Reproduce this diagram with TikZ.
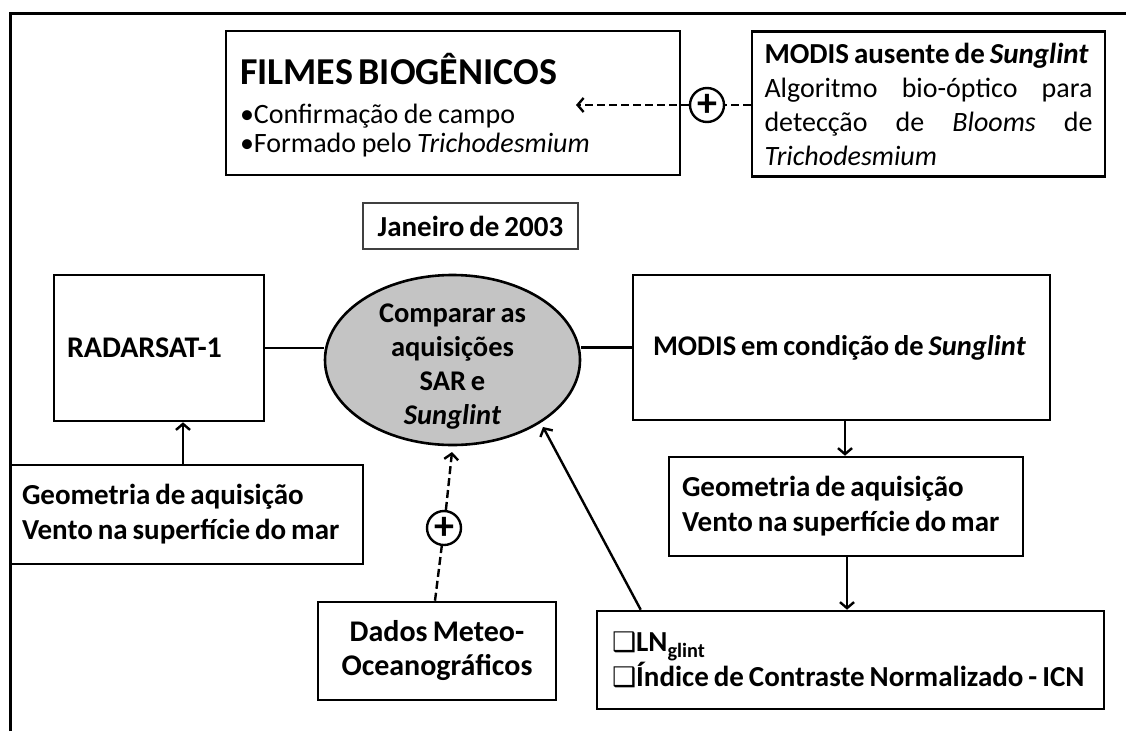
\documentclass[tikz,border=0pt]{standalone}
\usepackage{fontspec}
\setmainfont{Carlito}
\newfontfamily\djv{DejaVu Sans}
\usetikzlibrary{shapes.geometric,arrows.meta,calc}
\newcommand\tspc{\spaceskip=0.17em plus 0.05em minus 0.02em\relax}
\newcommand\szA{\fontsize{29}{35}\selectfont\tspc}
\newcommand\szE{\fontsize{28.5}{34}\selectfont\tspc}
\newcommand\szC{\fontsize{30}{34}\selectfont\tspc}
\newcommand\szB{\fontsize{28}{29}\selectfont\spaceskip=0.2em plus 0.05em minus 0.02em\relax}
\newcommand\szH{\fontsize{38}{44}\selectfont}
\newcommand\qbox{{\djv\fontsize{27}{34}\selectfont ❑}}
\begin{document}
\begin{tikzpicture}[x=1pt,y=-1pt,
  box/.style={draw,line width=2.6pt,inner ysep=0pt,align=flush left,font=\szA},
  bbox/.style={box,font=\bfseries\szA},
  conn/.style={line width=2.4pt},
  arr/.style={conn,-{Straight Barb[length=6pt,width=14pt]}},
  dsh/.style={dash pattern=on 8pt off 4pt},
  plus/.style={draw,circle,line width=2.4pt,minimum size=34pt,inner sep=0pt,fill=white,font=\fontsize{40}{40}\selectfont\bfseries}]
\useasboundingbox (0,0) rectangle (1126,731);
% frame
\draw[line width=3pt] (10,731) -- (10,13) -- (1126,13);

% top boxes
\node[box,font=\szB,minimum width=454pt,minimum height=144pt,text width=426pt,inner xsep=14pt] (fil) at (453,103)
  {\rule{0pt}{36pt}{\szH\bfseries FILMES BIOGÊNICOS}\\[10pt]•Confirmação de campo\\•Formado pelo \textit{Trichodesmium}};
\node[box,font=\fontsize{28}{34}\selectfont,minimum width=353pt,minimum height=145pt,text width=328pt,inner xsep=12.5pt] (mod1) at (928.5,104)
  {\mbox{\bfseries\fontsize{29}{34}\selectfont MODIS\kern0.17em ausente\kern0.17em de\kern0.17em \textit{Sunglint}}\\Algoritmo\hfill bio-óptico\hfill para\\detecção\hfill de\hfill \textit{Blooms}\hfill de\\\textit{Trichodesmium}};
\node[plus] (pl1) at (707,105) {+};
\coordinate (t1) at (576,105);

% date
\node[draw=black!75,line width=1.2pt,font=\bfseries\szA,minimum width=215pt,minimum height=46pt,inner sep=0pt] (jan) at (470.5,226) {Janeiro de 2003};

% middle row
\node[bbox,font=\bfseries\szC,minimum width=210pt,minimum height=146pt,text width=184pt,inner xsep=13pt] (rad) at (159,348) {RADARSAT-1};
\node[draw,ellipse,line width=2.6pt,fill={rgb,255:red,196;green,196;blue,196},minimum width=255pt,minimum height=170pt,inner sep=0pt,
  label={[font=\bfseries\szE,align=flush center,yshift=-7pt]center:Comparar as\\aquisições\\SAR e\\\textit{Sunglint}}] (ell) at (452.5,360) {};
\node[bbox,font=\bfseries\szE,minimum width=417pt,minimum height=145pt,text width=377pt,inner xsep=20pt] (mod2) at (841.5,347.5) {\mbox{MODIS em condição de \textit{Sunglint}}};

% lower boxes
\node[bbox,minimum width=353pt,minimum height=99pt,text width=329pt,inner xsep=12pt] (geoL) at (186.5,514.5)
  {Geometria de aquisição\\Vento na superfície do mar};
\node[bbox,minimum width=354pt,minimum height=99pt,text width=328pt,inner xsep=13pt] (geoR) at (846,506.5)
  {Geometria de aquisição\\Vento na superfície do mar};
\node[bbox,font=\bfseries\fontsize{29}{33}\selectfont\tspc,minimum width=507pt,minimum height=98pt,text width=477pt,inner xsep=15pt] (ln) at (850.5,660)
  {\mbox{\qbox LN\textsubscript{glint}}\\\mbox{\qbox Índice de Contraste Normalizado - ICN}};
\node[bbox,font=\bfseries\szC,align=flush center,minimum width=238pt,minimum height=98pt,inner xsep=0pt] (dad) at (437,651)
  {Dados Meteo-\\Oceanográficos};
\node[plus] (pl2) at (444,528) {+};
\coordinate (t2) at (452,452);
\coordinate (t3) at (543,427);

% connectors
\draw[conn] (rad.east) -- (rad.east -| ell.west);
\draw[conn] (mod2.west) -- (mod2.west -| ell.east);
\draw[arr] ([xshift=-3.5pt]geoL.north) -- ([xshift=-3.5pt]geoL.north |- rad.south);
\draw[arr] ([xshift=3.5pt]mod2.south) -- ([xshift=3.5pt]mod2.south |- geoR.north);
\draw[arr] ([xshift=1pt]geoR.south) -- ([xshift=1pt]geoR.south |- ln.north);
\draw[arr] ([xshift=45pt]ln.north west) -- (t3);
\draw[conn,dsh] (mod1.west |- pl1) -- (pl1);
\draw[arr,dsh] (pl1) -- (t1);
\draw[conn,dsh] ([xshift=-2pt]dad.north) -- (pl2);
\draw[arr,dsh] (pl2) -- (t2);
\end{tikzpicture}
\end{document}
